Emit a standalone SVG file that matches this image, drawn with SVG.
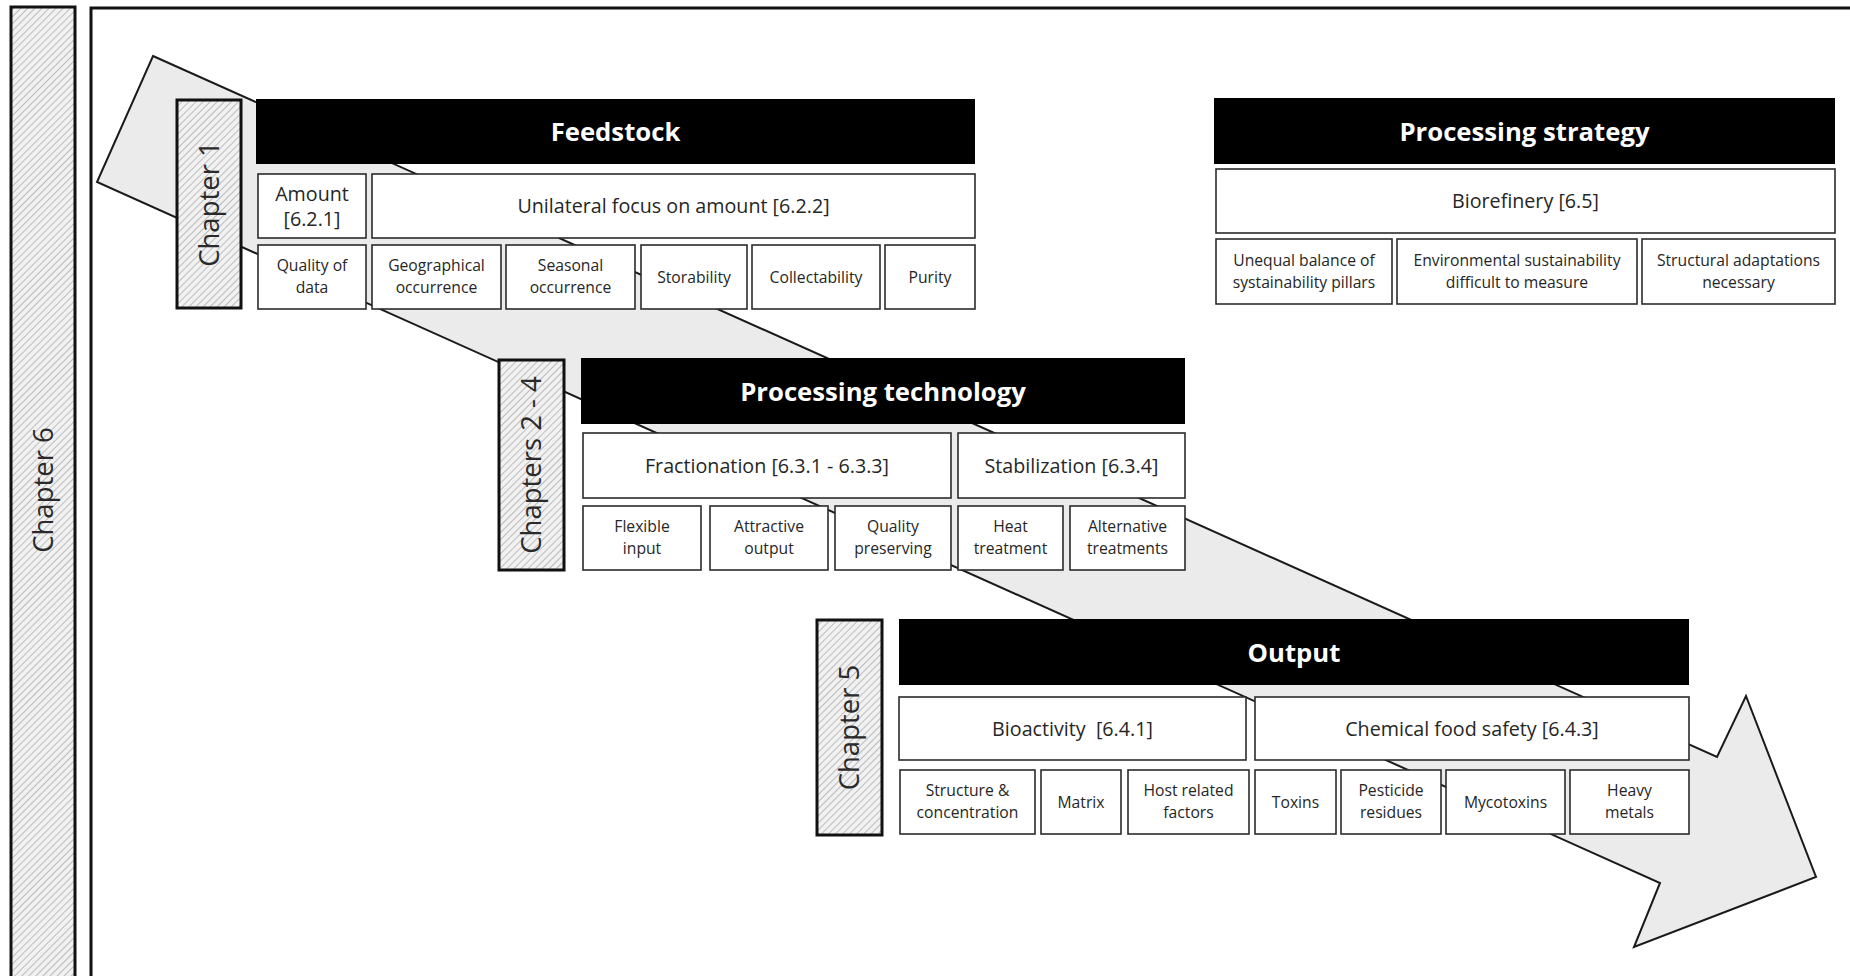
<svg xmlns="http://www.w3.org/2000/svg" width="1850" height="976" viewBox="0 0 1850 976">
<defs>
<pattern id="hatch" patternUnits="userSpaceOnUse" width="5" height="5" patternTransform="rotate(45)">
<rect width="5" height="5" fill="#f1f1f1"/>
<line x1="0" y1="0" x2="0" y2="5" stroke="#a0a0a0" stroke-width="1.3"/>
</pattern>
<style>
.bar{fill:#000}
.box{fill:#fff;stroke:#2b2b2b;stroke-width:1.6}
.chap{fill:url(#hatch);stroke:#111;stroke-width:3}
.hdr{font-family:"Open Sans",sans-serif;font-weight:bold;font-size:25.7px;fill:#fff;text-anchor:middle}
.t1{font-family:"Open Sans",sans-serif;font-size:19.7px;fill:#262626;text-anchor:middle}
.t2{font-family:"Open Sans",sans-serif;font-size:15.7px;fill:#262626;text-anchor:middle}
.ct{font-family:"Open Sans",sans-serif;font-size:27.5px;fill:#2a2a2a;text-anchor:middle}
</style>
</defs>
<rect width="1850" height="976" fill="#fff"/>

<g id="chapter6">
<rect class="chap" x="11" y="7" width="64" height="1000"/>
<text class="ct" transform="translate(53,490) rotate(-90)">Chapter 6</text>
</g>
<g id="frame">
<rect x="91" y="8" width="1800" height="1000" fill="none" stroke="#111" stroke-width="3"/>
</g>

<g id="connectors">
<polygon points="153,56 1717,757 1746,696 1816,877 1634,947 1660,883 97,182" fill="#ebebeb" stroke="#1a1a1a" stroke-width="2" stroke-linejoin="miter"/>
</g>

<g id="feedstock">
<rect class="chap" x="177" y="100" width="64" height="208"/>
<text class="ct" transform="translate(219,204) rotate(-90)">Chapter 1</text>
<rect class="bar" x="256" y="99" width="719" height="65"/>
<text class="hdr" x="615.5" y="141">Feedstock</text>
<rect class="box" x="258" y="174" width="108" height="64"/>
<text class="t1" x="312" y="200.5">Amount</text>
<text class="t1" x="312" y="225.5">[6.2.1]</text>
<rect class="box" x="372" y="174" width="603" height="64"/>
<text class="t1" x="673.5" y="213">Unilateral focus on amount [6.2.2]</text>
<rect class="box" x="258" y="245" width="108" height="64"/>
<text class="t2" x="312" y="271.3">Quality of</text>
<text class="t2" x="312" y="293.3">data</text>
<rect class="box" x="372" y="245" width="129" height="64"/>
<text class="t2" x="436.5" y="271.3">Geographical</text>
<text class="t2" x="436.5" y="293.3">occurrence</text>
<rect class="box" x="506" y="245" width="129" height="64"/>
<text class="t2" x="570.5" y="271.3">Seasonal</text>
<text class="t2" x="570.5" y="293.3">occurrence</text>
<rect class="box" x="641" y="245" width="106" height="64"/>
<text class="t2" x="694" y="282.5">Storability</text>
<rect class="box" x="752" y="245" width="128" height="64"/>
<text class="t2" x="816" y="282.5">Collectability</text>
<rect class="box" x="885" y="245" width="90" height="64"/>
<text class="t2" x="930" y="282.5">Purity</text>
</g>

<g id="processing-strategy">
<rect class="bar" x="1214" y="98" width="621" height="66"/>
<text class="hdr" x="1524.5" y="141">Processing strategy</text>
<rect class="box" x="1216" y="169" width="619" height="64"/>
<text class="t1" x="1525.5" y="208">Biorefinery [6.5]</text>
<rect class="box" x="1216" y="239" width="176" height="65"/>
<text class="t2" x="1304" y="265.8">Unequal balance of</text>
<text class="t2" x="1304" y="287.8">systainability pillars</text>
<rect class="box" x="1397" y="239" width="240" height="65"/>
<text class="t2" x="1517" y="265.8">Environmental sustainability</text>
<text class="t2" x="1517" y="287.8">difficult to measure</text>
<rect class="box" x="1642" y="239" width="193" height="65"/>
<text class="t2" x="1738.5" y="265.8">Structural adaptations</text>
<text class="t2" x="1738.5" y="287.8">necessary</text>
</g>

<g id="processing-technology">
<rect class="chap" x="499" y="360" width="65" height="210"/>
<text class="ct" transform="translate(541,465) rotate(-90)">Chapters 2 - 4</text>
<rect class="bar" x="581" y="358" width="604" height="66"/>
<text class="hdr" x="883" y="401">Processing technology</text>
<rect class="box" x="583" y="433" width="368" height="65"/>
<text class="t1" x="767" y="472.5">Fractionation [6.3.1 - 6.3.3]</text>
<rect class="box" x="958" y="433" width="227" height="65"/>
<text class="t1" x="1071.5" y="472.5">Stabilization [6.3.4]</text>
<rect class="box" x="583" y="506" width="118" height="64"/>
<text class="t2" x="642" y="532.3">Flexible</text>
<text class="t2" x="642" y="554.3">input</text>
<rect class="box" x="710" y="506" width="118" height="64"/>
<text class="t2" x="769" y="532.3">Attractive</text>
<text class="t2" x="769" y="554.3">output</text>
<rect class="box" x="835" y="506" width="116" height="64"/>
<text class="t2" x="893" y="532.3">Quality</text>
<text class="t2" x="893" y="554.3">preserving</text>
<rect class="box" x="958" y="506" width="105" height="64"/>
<text class="t2" x="1010.5" y="532.3">Heat</text>
<text class="t2" x="1010.5" y="554.3">treatment</text>
<rect class="box" x="1070" y="506" width="115" height="64"/>
<text class="t2" x="1127.5" y="532.3">Alternative</text>
<text class="t2" x="1127.5" y="554.3">treatments</text>
</g>

<g id="output">
<rect class="chap" x="817" y="620" width="65" height="215"/>
<text class="ct" transform="translate(859,727.5) rotate(-90)">Chapter 5</text>
<rect class="bar" x="899" y="619" width="790" height="66"/>
<text class="hdr" x="1294" y="662">Output</text>
<rect class="box" x="899" y="697" width="347" height="63"/>
<text class="t1" x="1072.5" y="735.5" style="white-space:pre">Bioactivity  [6.4.1]</text>
<rect class="box" x="1255" y="697" width="434" height="63"/>
<text class="t1" x="1472" y="735.5">Chemical food safety [6.4.3]</text>
<rect class="box" x="900" y="770" width="135" height="64"/>
<text class="t2" x="967.5" y="796.3">Structure &amp;</text>
<text class="t2" x="967.5" y="818.3">concentration</text>
<rect class="box" x="1041" y="770" width="80" height="64"/>
<text class="t2" x="1081" y="807.5">Matrix</text>
<rect class="box" x="1128" y="770" width="121" height="64"/>
<text class="t2" x="1188.5" y="796.3">Host related</text>
<text class="t2" x="1188.5" y="818.3">factors</text>
<rect class="box" x="1255" y="770" width="81" height="64"/>
<text class="t2" x="1295.5" y="807.5">Toxins</text>
<rect class="box" x="1341" y="770" width="100" height="64"/>
<text class="t2" x="1391" y="796.3">Pesticide</text>
<text class="t2" x="1391" y="818.3">residues</text>
<rect class="box" x="1446" y="770" width="119" height="64"/>
<text class="t2" x="1505.5" y="807.5">Mycotoxins</text>
<rect class="box" x="1570" y="770" width="119" height="64"/>
<text class="t2" x="1629.5" y="796.3">Heavy</text>
<text class="t2" x="1629.5" y="818.3">metals</text>
</g>
</svg>
